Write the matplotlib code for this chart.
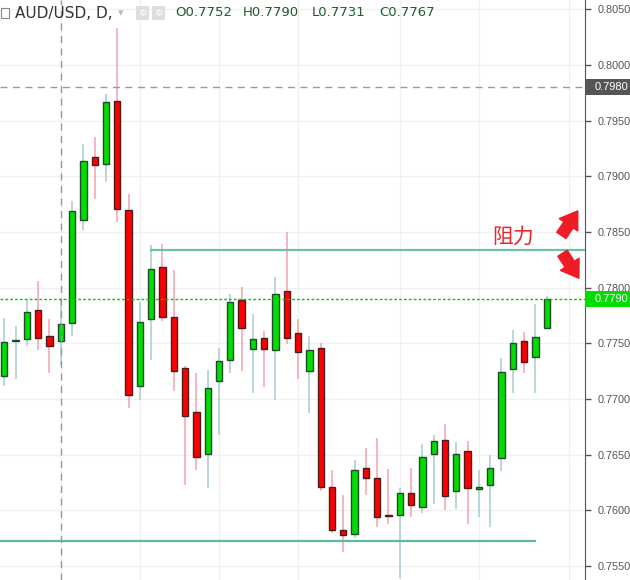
import matplotlib
matplotlib.use("Agg")
import matplotlib.pyplot as plt
from matplotlib.patches import Rectangle
from matplotlib.transforms import blended_transform_factory

# daily AUD/USD candles
opens = [0.7721, 0.7752, 0.7754, 0.7780, 0.7757, 0.7752, 0.7768, 0.7861, 0.7917, 0.7911,
         0.7968, 0.7870, 0.7712, 0.7772, 0.7819, 0.7774, 0.7728, 0.7688, 0.7651, 0.7716,
         0.7735, 0.7789, 0.7745, 0.7755, 0.7744, 0.7797, 0.7759, 0.7725, 0.7746, 0.7621,
         0.7582, 0.7579, 0.7638, 0.7629, 0.7596, 0.7596, 0.7616, 0.7603, 0.7651, 0.7663,
         0.7617, 0.7653, 0.7619, 0.7623, 0.7647, 0.7727, 0.7752, 0.7738, 0.7764]
highs = [0.7773, 0.7766, 0.7789, 0.7806, 0.7772, 0.7790, 0.7878, 0.7929, 0.7935, 0.7974,
         0.8033, 0.7884, 0.7787, 0.7838, 0.7839, 0.7816, 0.7730, 0.7723, 0.7726, 0.7746,
         0.7794, 0.7801, 0.7776, 0.7761, 0.7810, 0.7850, 0.7772, 0.7757, 0.7750, 0.7636,
         0.7614, 0.7645, 0.7656, 0.7665, 0.7637, 0.7620, 0.7638, 0.7660, 0.7668, 0.7678,
         0.7661, 0.7662, 0.7636, 0.7650, 0.7737, 0.7762, 0.7760, 0.7785, 0.7793]
lows = [0.7712, 0.7718, 0.7748, 0.7744, 0.7723, 0.7731, 0.7757, 0.7852, 0.7880, 0.7895,
        0.7859, 0.7692, 0.7699, 0.7735, 0.7770, 0.7707, 0.7623, 0.7636, 0.7620, 0.7668,
        0.7723, 0.7725, 0.7705, 0.7711, 0.7699, 0.7749, 0.7718, 0.7687, 0.7617, 0.7580,
        0.7563, 0.7575, 0.7614, 0.7585, 0.7588, 0.7539, 0.7594, 0.7598, 0.7606, 0.7600,
        0.7601, 0.7588, 0.7594, 0.7585, 0.7635, 0.7705, 0.7723, 0.7705, 0.7764]
closes = [0.7751, 0.7753, 0.7778, 0.7755, 0.7748, 0.7767, 0.7869, 0.7914, 0.7910, 0.7967,
          0.7871, 0.7704, 0.7769, 0.7817, 0.7774, 0.7725, 0.7685, 0.7648, 0.7710, 0.7734,
          0.7787, 0.7764, 0.7754, 0.7745, 0.7794, 0.7755, 0.7742, 0.7744, 0.7621, 0.7582,
          0.7578, 0.7636, 0.7629, 0.7594, 0.7595, 0.7616, 0.7605, 0.7648, 0.7662, 0.7613,
          0.7651, 0.7620, 0.7621, 0.7638, 0.7724, 0.7750, 0.7733, 0.7756, 0.7790]

price_ticks = [0.7550, 0.7600, 0.7650, 0.7700, 0.7750, 0.7800, 0.7850, 0.7900, 0.7950, 0.8000, 0.8050]
grid_bars = [5, 12, 19, 26, 35, 42, 50]
crosshair_bar = 5
crosshair_price = 0.7980
last_price = 0.7790
resistance = 0.7834
resistance_from = 13
support = 0.7572
support_to = 47
header_ohlc = ["O0.7752", "H0.7790", "L0.7731", "C0.7767"]

up_fill, up_edge, up_wick = "#00dd00", "#1f4a2c", "#a6cdd2"
dn_fill, dn_edge, dn_wick = "#ff0000", "#4a1c1c", "#f2a3ad"
axis_font = ["Liberation Sans", "DejaVu Sans"]

fig = plt.figure(figsize=(6.3, 5.8), dpi=100)
ax = fig.add_axes([0, 0, 585 / 630, 1])
ax.set_xlim(-0.38, 51.39)
ax.set_ylim(0.75374, 0.80585)

for p in price_ticks:
    ax.axhline(p, color="#f0f0f0", lw=1, zorder=0)
for b in grid_bars:
    ax.axvline(b, color="#f0f0f0", lw=1, zorder=0)

for i, (o, h, l, c) in enumerate(zip(opens, highs, lows, closes)):
    up = c >= o
    ax.vlines(i, l, h, color=up_wick if up else dn_wick, lw=1.1, zorder=2)
    body = max(abs(c - o), 0.00003)
    ax.bar(i, body, bottom=min(o, c), width=0.56,
           color=up_fill if up else dn_fill,
           edgecolor=up_edge if up else dn_edge, lw=1, zorder=3)

# trend lines
ax.plot([resistance_from, 51.39], [resistance, resistance], color="#6cc0ac", lw=1.6, zorder=4)
ax.plot([-0.38, support_to], [support, support], color="#5cb8a0", lw=1.6, zorder=4)

# crosshair and price lines
ax.axvline(crosshair_bar, color="#999999", lw=1, dashes=(5, 4), zorder=5)
ax.axhline(crosshair_price, color="#999999", lw=1, dashes=(5, 4), zorder=5)
ax.axhline(last_price, color="#00cc00", lw=1, dashes=(2, 1.5), zorder=5)

# price labels on the scale
tr = blended_transform_factory(ax.transAxes, ax.transData)
box_h = 16 / 11130
for price, col in [(crosshair_price, "#555555"), (last_price, "#00dd00")]:
    ax.add_patch(Rectangle((1.0, price - box_h / 2), 45 / 585, box_h, transform=tr,
                           fc=col, ec="none", clip_on=False, zorder=10))
    ax.text(1.0 + 10 / 585, price, f"{price:.4f}", transform=tr, ha="left", va="center",
            fontsize=8, color="white", family=axis_font, clip_on=False, zorder=11)

# annotation
ax.text(43.2, 0.78456, "阻力", fontsize=15, color="#e8262c", va="center",
        family=["Noto Sans CJK SC", "DejaVu Sans"], zorder=6)
arrow = dict(arrowstyle="simple,head_width=1.0,head_length=0.75,tail_width=0.5",
             color="#ee1c25", mutation_scale=16, shrinkA=0, shrinkB=0)
ax.annotate("", xy=(50.75, 0.78690), xytext=(49.3, 0.78470), arrowprops=arrow, zorder=6)
ax.annotate("", xy=(50.85, 0.78085), xytext=(49.4, 0.78310), arrowprops=arrow, zorder=6)

# right price scale
ax.yaxis.tick_right()
ax.set_yticks(price_ticks)
ax.set_yticklabels([f"{p:.4f}" for p in price_ticks], family=axis_font)
ax.tick_params(axis="y", colors="#555555", labelsize=7.8, length=4, width=1, pad=5)
ax.set_xticks([])
for s in ["top", "left", "bottom"]:
    ax.spines[s].set_visible(False)
ax.spines["right"].set_color("#555555")

# header
hy = 1 - 13 / 580
fig.patches.append(Rectangle((1 / 630, 1 - 18 / 580), 8 / 630, 10 / 580, transform=fig.transFigure,
                             fc="white", ec="#888888", lw=0.8))
fig.text(15 / 630, hy, "AUD/USD, D,", fontsize=11, color="#333333", va="center")
fig.text(118 / 630, hy, "▾", fontsize=8, color="#bbbbbb", va="center")
for x0 in [136, 152]:
    fig.patches.append(Rectangle((x0 / 630, 1 - 20 / 580), 13 / 630, 14 / 580,
                                 transform=fig.transFigure, fc="#dddddd", ec="none"))
    fig.text((x0 + 6.5) / 630, hy, "⚙", fontsize=7, color="white", ha="center", va="center")
for x0, s in zip([175, 243, 312, 379], header_ohlc):
    fig.text(x0 / 630, hy, s, fontsize=9.5, color="#1e5a32", va="center")

fig.savefig("out.png", dpi=100, facecolor="white")
